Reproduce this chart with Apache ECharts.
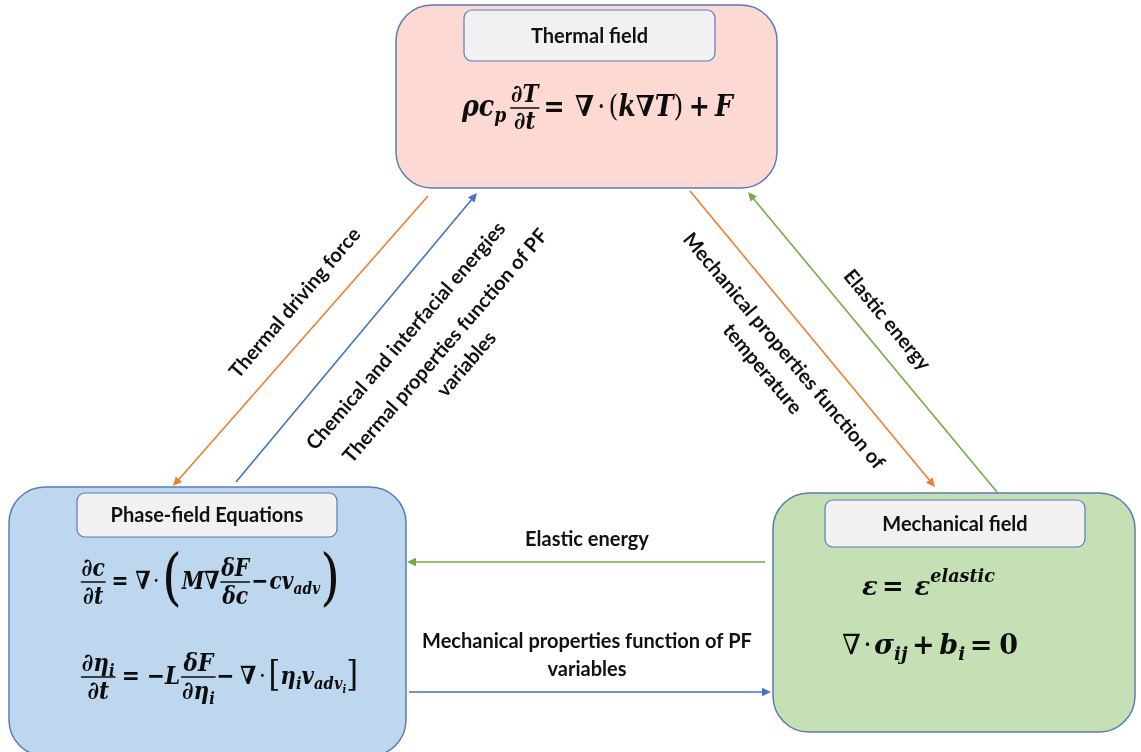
<!DOCTYPE html>
<html><head><meta charset="utf-8">
<script src="https://cdn.jsdelivr.net/npm/echarts@6/dist/echarts.min.js"></script>
<style>html,body{margin:0;padding:0;background:#fff}#c{width:1141px;height:752px}</style>
</head><body><div id="c"></div>
<script>
// ---------- content ----------
const fieldNames = ['Thermal field', 'Phase-field Equations', 'Mechanical field'];
const linkSources = ['Thermal field', 'Phase-field Equations', 'Thermal field', 'Mechanical field', 'Mechanical field', 'Phase-field Equations'];
const linkTargets = ['Phase-field Equations', 'Thermal field', 'Mechanical field', 'Thermal field', 'Phase-field Equations', 'Mechanical field'];
const linkLabels = [
  'Thermal driving force',
  'Chemical and interfacial energies',
  'Thermal properties function of PF\nvariables',
  'Mechanical properties function of\ntemperature',
  'Elastic energy',
  'Elastic energy',
  'Mechanical properties function of PF\nvariables'
];

// formula token helpers
const I = t => ({t});                       // bold italic math
const U = t => ({t, up: true});             // bold upright
const N = t => ({t, up: true, n: true});    // regular upright
const SP = w => ({sp: w});
const SUB = (...x) => ({sub: x});
const SUP = (...x) => ({sup: x});
const FR = (n, d, k) => ({frac: [n, d], k: k || 1});
const BIG = (t, k) => ({t, up: true, n: true, k});

const formulaThermal = [I('ρc'), SUB(I('p')), SP(3), FR([I('∂T')], [I('∂t')], 0.85), SP(3), U('='), SP(10), I('∇'), SP(3), N('·'), SP(3), N('('), I('k∇T'), N(')'), SP(5), U('+'), SP(5), I('F')];
const formulaConc = [FR([I('∂c')], [I('∂t')]), SP(6), U('='), SP(8), I('∇'), SP(3), N('·'), SP(3), BIG('(', 2.5), I('M∇'), FR([I('δF')], [I('δc')]), SP(1), U('−'), SP(1), I('cv'), SUB(I('adv')), BIG(')', 2.5)];
const formulaOrder = [FR([I('∂η'), SUB(I('i'))], [I('∂t')]), SP(6), U('='), SP(8), U('−'), I('L'), FR([I('δF')], [I('∂η'), SUB(I('i'))]), U('−'), SP(6), I('∇'), SP(3), N('·'), SP(3), BIG('[', 1.4), I('η'), SUB(I('i')), I('v'), SUB(I('adv'), SUB(I('i'))), BIG(']', 1.4)];
const formulaStrain = [I('ε'), SP(4), U('='), SP(10), I('ε'), SUP(I('elastic'))];
const formulaEquil = [N('∇'), SP(2), N('·'), SP(2), I('σ'), SUB(I('ij')), SP(4), U('+'), SP(4), I('b'), SUB(I('i')), SP(4), U('='), SP(6), U('0')];
const formulas = [formulaThermal, formulaConc, formulaOrder, formulaStrain, formulaEquil];

// ---------- layout (in the hidden axes' units) ----------
const LAYOUT = {
  box: [[396, 5, 777, 188], [9, 487, 406, 756], [773, 493, 1135, 732]],
  title: [[464, 10, 715, 61], [77, 493, 337, 537], [825, 500, 1085, 547]],
  fill: ['#fcdad3', '#bdd7ee', '#c5e0b4'],
  arrow: [[428, 196, 173, 486], [236, 482, 477, 193], [690, 191, 935, 487], [997, 492, 748, 192], [765, 562, 407, 562], [409, 692, 771, 692]],
  arrowColor: ['#ed7d31', '#4472c4', '#ed7d31', '#70ad47', '#70ad47', '#4472c4'],
  label: [[295, 303, 49.5], [406, 336, 49.3], [456, 355, 49.2], [773, 360, -50], [887, 320, -50.4], [587, 540, 0], [587, 656, 0]],
  formula: [[462, 108], [80, 582], [80, 677], [862, 588], [842, 647]],
  formulaSize: [29, 25, 25, 26, 28],
  formulaWidth: [271, 260, 278, 133, 176]
};

const FAM = '"DejaVu Serif", "Liberation Serif", serif';
const INK = '#0d0d0d';
const LABEL_FONT = 'bold 20px Lato';
const mctx = document.createElement('canvas').getContext('2d');
function fstr(o) { return (o.it ? 'italic ' : 'normal ') + (o.b ? 'bold ' : 'normal ') + o.s.toFixed(2) + 'px ' + FAM; }
function measure(t, f) { mctx.font = fstr(f); return mctx.measureText(t).width; }

function layout(tokens, s, x, cy, out) {
  for (const tok of tokens) {
    if (tok.sp != null) { x += tok.sp * s / 24; continue; }
    if (tok.t != null) {
      const f = {it: !tok.up, b: !tok.n, s: s * (tok.k || 1)};
      const w = measure(tok.t, f);
      out.push({type: 'text', x: x, y: cy, style: {text: tok.t, font: fstr(f), fill: INK, align: 'left', verticalAlign: 'middle'}});
      x += w;
      continue;
    }
    if (tok.sub) { x = layout(tok.sub, s * 0.68, x, cy + 0.3 * s, out); continue; }
    if (tok.sup) { x = layout(tok.sup, s * 0.68, x, cy - 0.42 * s, out); continue; }
    if (tok.frac) {
      const fs = s * tok.k;
      const wn = layout(tok.frac[0], fs, 0, 0, []);
      const wd = layout(tok.frac[1], fs, 0, 0, []);
      const W = Math.max(wn, wd) + 4;
      layout(tok.frac[0], fs, x + (W - wn) / 2, cy - 0.5 * fs, out);
      layout(tok.frac[1], fs, x + (W - wd) / 2, cy + 0.6 * fs, out);
      out.push({type: 'line', shape: {x1: x + 1, y1: cy, x2: x + W - 1, y2: cy}, style: {stroke: INK, lineWidth: Math.max(1, fs * 0.06)}});
      x += W;
    }
  }
  return x;
}

function rectSeries(name, rects, styleFn, r) {
  return {
    type: 'custom', name, coordinateSystem: 'cartesian2d', clip: false, silent: true,
    encode: {x: [0, 2], y: [1, 3]},
    data: rects,
    renderItem(params, api) {
      const a = api.coord([api.value(0), api.value(1)]);
      const b = api.coord([api.value(2), api.value(3)]);
      return {type: 'rect', shape: {x: a[0], y: a[1], width: b[0] - a[0], height: b[1] - a[1], r}, style: styleFn(params.dataIndex)};
    }
  };
}

const chart = echarts.init(document.getElementById('c'), null, {renderer: 'canvas'});
chart.setOption({
  backgroundColor: '#ffffff',
  animation: false,
  grid: {left: 0, right: 0, top: 0, bottom: 0},
  xAxis: {type: 'value', min: 0, max: 1141, show: false},
  yAxis: {type: 'value', min: 0, max: 752, inverse: true, show: false},
  series: [
    rectSeries('fields', LAYOUT.box, i => ({fill: LAYOUT.fill[i], stroke: '#5b7bb7', lineWidth: 1.5}), 36),
    rectSeries('titles', LAYOUT.title, i => ({fill: '#f1f1f1', stroke: '#5b7bb7', lineWidth: 1.2}), 8),
    {
      type: 'custom', name: 'titleText', coordinateSystem: 'cartesian2d', clip: false, silent: true,
      encode: {x: [0, 2], y: [1, 3]}, data: LAYOUT.title,
      renderItem(params, api) {
        const a = api.coord([api.value(0), api.value(1)]);
        const b = api.coord([api.value(2), api.value(3)]);
        return {type: 'text', x: (a[0] + b[0]) / 2, y: (a[1] + b[1]) / 2 + 1,
          style: {text: fieldNames[params.dataIndex], font: LABEL_FONT, fill: '#111', align: 'center', verticalAlign: 'middle'}};
      }
    },
    {
      type: 'custom', name: 'formulas', coordinateSystem: 'cartesian2d', clip: false, silent: true,
      encode: {x: 0, y: 1}, data: LAYOUT.formula,
      renderItem(params, api) {
        const i = params.dataIndex;
        const p = api.coord([api.value(0), api.value(1)]);
        const out = [];
        const w = layout(formulas[i], LAYOUT.formulaSize[i], 0, 0, out);
        return {type: 'group', x: p[0], y: p[1], scaleX: LAYOUT.formulaWidth[i] / w, scaleY: 1, children: out};
      }
    },
    {
      type: 'custom', name: 'links', coordinateSystem: 'cartesian2d', clip: false, silent: true,
      encode: {x: [0, 2], y: [1, 3]}, data: LAYOUT.arrow,
      renderItem(params, api) {
        const a = api.coord([api.value(0), api.value(1)]);
        const b = api.coord([api.value(2), api.value(3)]);
        const color = LAYOUT.arrowColor[params.dataIndex];
        const dx = b[0] - a[0], dy = b[1] - a[1], L = Math.hypot(dx, dy), ux = dx / L, uy = dy / L;
        const hl = 9, hw = 4.2;
        const bx = b[0] - ux * hl, by = b[1] - uy * hl;
        return {type: 'group', children: [
          {type: 'line', shape: {x1: a[0], y1: a[1], x2: bx + ux, y2: by + uy}, style: {stroke: color, lineWidth: 1.6}},
          {type: 'polygon', shape: {points: [[b[0], b[1]], [bx - uy * hw, by + ux * hw], [bx + uy * hw, by - ux * hw]]}, style: {fill: color}}
        ]};
      }
    },
    {
      type: 'custom', name: 'linkLabels', coordinateSystem: 'cartesian2d', clip: false, silent: true,
      encode: {x: 0, y: 1}, data: LAYOUT.label,
      renderItem(params, api) {
        const p = api.coord([api.value(0), api.value(1)]);
        return {type: 'text', x: p[0], y: p[1], rotation: api.value(2) * Math.PI / 180,
          style: {text: linkLabels[params.dataIndex], font: LABEL_FONT, fill: '#111', align: 'center', verticalAlign: 'middle', lineHeight: 28}};
      }
    }
  ]
});
</script>
</body></html>
